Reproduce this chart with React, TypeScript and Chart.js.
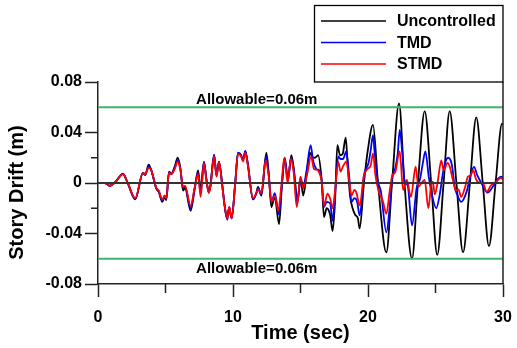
import React, { useEffect, useRef } from "react";
import { Chart, registerables } from "chart.js";

Chart.register(...registerables);

const seriesNames = ["Uncontrolled", "TMD", "STMD"];
const seriesColors = ["#000000", "#0000ff", "#ff0000"];

const timeUncontrolled = [
  0, 0.5, 0.87, 1.3, 1.85, 2.2, 2.76, 3.33, 3.5, 3.75,
  3.95, 4.32, 4.5, 4.76, 4.94, 5.06, 5.26, 5.43, 5.68, 5.9,
  6.1, 6.3, 6.45, 6.86, 7.16, 7.41, 7.6, 7.85, 8.02, 8.2,
  8.33, 8.6, 8.78, 8.96, 9.2, 9.38, 9.55, 9.7, 9.9, 10.17,
  10.37, 10.6, 10.74, 10.91, 11.1, 11.48, 11.73, 11.85, 12.1, 12.47,
  12.64, 12.84, 13.09, 13.41, 13.63, 13.83, 14.07, 14.32, 14.52, 14.77,
  15.01, 15.2, 15.43, 15.7, 15.85, 16.07, 16.3, 16.57, 16.74, 16.94,
  17.19, 17.38, 17.56, 17.73, 17.93, 18.12, 18.35, 18.5, 18.67, 18.86,
  19.04, 19.25, 19.38, 19.7, 19.96, 20.37, 20.74, 21.36, 21.78, 22.3,
  22.7, 23.26, 23.7, 24.2, 24.68, 25.13, 25.6, 26.05, 26.55, 27.04,
  27.55, 28.02, 28.5, 28.96, 29.45, 29.93, 30,
];
const driftUncontrolled = [
  0, 0, -0.002, 0.001, 0.0075, 0, -0.013, 0.008, 0.0065, 0.0146,
  0.01, -0.0045, -0.007, -0.015, -0.011, -0.0135, 0.009, 0.0075, 0.013, 0.02,
  0.012, -0.006, -0.004, -0.022, -0.005, 0.01, -0.004, 0.017, 0.004, -0.007,
  -0.002, 0.022, 0.006, 0.017, -0.001, -0.018, -0.028, -0.02, -0.028, 0.001,
  0.0236, 0.022, 0.018, 0.025, 0.015, -0.013, -0.008, -0.003, -0.01, 0.024,
  0.0085, -0.019, -0.011, -0.0326, -0.001, 0.02, 0.002, 0.022, 0.01, -0.014,
  0.003, -0.01, 0.005, 0.024, 0.021, 0.02, 0.022, 0.002, -0.027, -0.02,
  -0.025, -0.038, -0.014, 0.03, 0.022, 0.023, 0.036, 0.013, -0.01, -0.02,
  -0.025, -0.028, -0.036, 0.0, 0.024, 0.046, 0.0, -0.055, 0.0, 0.063,
  0.0, -0.06, 0.0, 0.057, 0.0, -0.057, 0.0, 0.057, 0.0, -0.055,
  0.0, 0.052, 0.0, -0.05, 0.0, 0.047, 0.046,
];

const timeTmd = [
  0, 0.5, 0.87, 1.3, 1.85, 2.2, 2.76, 3.33, 3.5, 3.75,
  3.95, 4.32, 4.5, 4.76, 4.94, 5.06, 5.26, 5.43, 5.68, 5.9,
  6.1, 6.3, 6.45, 6.86, 7.16, 7.41, 7.6, 7.85, 8.02, 8.2,
  8.33, 8.6, 8.78, 8.96, 9.2, 9.38, 9.58, 9.72, 9.9, 10.17,
  10.37, 10.6, 10.74, 10.91, 11.1, 11.48, 11.73, 11.85, 12.1, 12.45,
  12.64, 12.85, 13.1, 13.4, 13.63, 13.83, 14.07, 14.3, 14.5, 14.77,
  15.0, 15.2, 15.45, 15.75, 15.93, 16.2, 16.4, 16.57, 16.74, 16.94,
  17.19, 17.38, 17.56, 17.8, 17.97, 18.15, 18.39, 18.6, 18.77, 19.0,
  19.2, 19.38, 19.7, 20.04, 20.2, 20.37, 20.5, 20.7, 20.96, 21.36,
  21.6, 21.8, 22.0, 22.2, 22.35, 22.53, 22.7, 22.94, 23.26, 23.6,
  23.85, 24.05, 24.25, 24.5, 24.75, 25.06, 25.3, 25.6, 25.93, 26.2,
  26.44, 26.6, 26.9, 27.3, 27.6, 27.85, 28.1, 28.5, 28.84, 29.3,
  29.6, 29.85, 30,
];
const driftTmd = [
  0, 0, -0.0022, 0.001, 0.007, 0, -0.0125, 0.008, 0.0065, 0.013,
  0.01, -0.004, -0.0065, -0.014, -0.01, -0.0125, 0.0085, 0.007, 0.012, 0.018,
  0.011, -0.004, -0.003, -0.02, -0.004, 0.008, -0.008, 0.0165, 0.003, -0.0075,
  -0.002, 0.0225, 0.006, 0.017, -0.0015, -0.018, -0.029, -0.019, -0.028, 0.0005,
  0.024, 0.022, 0.018, 0.0255, 0.015, -0.013, -0.008, -0.004, -0.009, 0.021,
  0.007, -0.015, -0.008, -0.025, 0.0, 0.019, 0.003, 0.02, 0.01, -0.016,
  0.004, -0.003, 0.01, 0.03, 0.018, 0.011, 0.01, 0.002, -0.019, -0.015,
  -0.016, -0.03, -0.0085, 0.021, 0.019, 0.019, 0.025, 0.006, -0.015, -0.012,
  -0.015, -0.0257, 0.006, 0.016, 0.026, 0.038, 0.023, 0.003, -0.007, -0.039,
  -0.02, 0.005, 0.011, 0.023, 0.042, 0.025, 0.002, -0.002, -0.0336, -0.004,
  0.003, 0.015, 0.025, 0.005, -0.01, -0.02, -0.01, 0.011, 0.02, 0.015,
  -0.004, -0.009, -0.015, -0.007, 0.006, 0.0127, 0.006, -0.002, -0.0077, -0.002,
  0.003, 0.005, 0.004,
];

const timeStmd = [
  0, 0.5, 0.87, 1.3, 1.85, 2.2, 2.76, 3.33, 3.5, 3.75,
  3.95, 4.32, 4.5, 4.76, 4.94, 5.06, 5.26, 5.43, 5.68, 5.9,
  6.1, 6.3, 6.45, 6.86, 7.16, 7.41, 7.6, 7.85, 8.02, 8.2,
  8.33, 8.6, 8.78, 8.96, 9.2, 9.38, 9.58, 9.72, 9.9, 10.17,
  10.37, 10.6, 10.74, 10.91, 11.1, 11.48, 11.73, 11.85, 12.1, 12.42,
  12.64, 12.85, 13.1, 13.35, 13.6, 13.8, 14.05, 14.28, 14.5, 14.72,
  15.0, 15.2, 15.5, 15.78, 16.0, 16.2, 16.4, 16.57, 16.74, 17.0,
  17.2, 17.38, 17.56, 17.8, 17.97, 18.1, 18.39, 18.6, 18.77, 19.0,
  19.15, 19.38, 19.7, 19.96, 20.2, 20.37, 20.55, 20.8, 21.1, 21.36,
  21.6, 21.8, 22.0, 22.35, 22.6, 22.87, 23.18, 23.53, 23.73, 23.97,
  24.2, 24.47, 24.7, 24.8, 24.95, 25.15, 25.43, 25.6, 25.9, 26.05,
  26.3, 26.5, 26.7, 26.9, 27.2, 27.4, 27.6, 27.8, 28.0, 28.3,
  28.5, 28.8, 29.1, 29.5, 29.85, 30,
];
const driftStmd = [
  0, 0, -0.0025, 0.001, 0.007, 0, -0.012, 0.008, 0.007, 0.012,
  0.01, -0.004, -0.006, -0.013, -0.01, -0.012, 0.008, 0.007, 0.011, 0.017,
  0.011, -0.003, -0.002, -0.018, -0.004, 0.007, -0.011, 0.016, 0.003, -0.008,
  -0.003, 0.021, 0.005, 0.017, -0.002, -0.018, -0.028, -0.019, -0.028, 0.0,
  0.023, 0.021, 0.017, 0.024, 0.014, -0.012, -0.008, -0.005, -0.008, 0.018,
  0.006, -0.015, -0.01, -0.022, 0.0, 0.02, 0.0, 0.019, 0.008, -0.019,
  0.005, -0.0045, 0.0074, 0.021, 0.011, 0.0106, 0.008, 0.001, -0.018, -0.0085,
  -0.0125, -0.02, -0.006, 0.0167, 0.009, 0.012, 0.017, 0.003, -0.01, -0.0055,
  -0.008, -0.0177, 0.006, 0.011, 0.014, 0.0234, 0.006, -0.007, -0.0143, -0.0244,
  -0.007, 0.006, 0.008, 0.025, -0.0055, 0.0024, -0.011, 0.013, -0.003, 0.0,
  0.0024, -0.02, 0.0, 0.001, -0.009, 0.0, 0.018, 0.01, 0.016, 0.013,
  0.002, -0.006, -0.005, -0.011, -0.003, 0.005, 0.006, 0.01, 0.003, 0.0,
  0.0, -0.007, -0.002, 0.001, 0.004, 0.003,
];

const xMin = 0;
const xMax = 30;
const xStep = 5;
const xLabelEvery = 10;
const yMin = -0.08;
const yMax = 0.08;
const yStep = 0.02;
const yLabelEvery = 0.04;
const allowable = 0.06;
const allowableText = "Allowable=0.06m";
const xTitle = "Time (sec)";
const yTitle = "Story Drift (m)";

const FONT = "Arial, 'Liberation Sans', Helvetica, sans-serif";
const AXIS_COLOR = "#222222";
const ALLOW_COLOR = "#3cb56e";

const toPoints = (t: number[], v: number[]) => t.map((tt, i) => ({ x: tt, y: v[i] }));

const zeroPad = (s: any) => {
  s.paddingLeft = 0;
  s.paddingRight = 0;
  s.paddingTop = 0;
  s.paddingBottom = 0;
};

const overlayPlugin = {
  id: "overlay",
  afterDatasetsDraw(chart: any) {
    const { ctx, chartArea: a, scales } = chart;
    const xs = scales.x;
    const ys = scales.y;
    ctx.save();

    // zero line
    const y0 = ys.getPixelForValue(0);
    ctx.strokeStyle = "#333333";
    ctx.lineWidth = 2;
    ctx.beginPath();
    ctx.moveTo(a.left, y0);
    ctx.lineTo(a.right, y0);
    ctx.stroke();

    // allowable lines
    ctx.strokeStyle = ALLOW_COLOR;
    ctx.lineWidth = 2;
    const yUp = ys.getPixelForValue(allowable);
    const yDn = ys.getPixelForValue(-allowable);
    ctx.beginPath();
    ctx.moveTo(a.left, yUp);
    ctx.lineTo(a.right, yUp);
    ctx.moveTo(a.left, yDn);
    ctx.lineTo(a.right, yDn);
    ctx.stroke();

    // allowable labels
    ctx.fillStyle = "#000";
    ctx.font = `bold 15px ${FONT}`;
    ctx.textAlign = "center";
    ctx.textBaseline = "alphabetic";
    const lx = a.left + (a.right - a.left) * 0.392;
    ctx.fillText(allowableText, lx, yUp - 3);
    ctx.fillText(allowableText, lx, yDn + 14);

    // right border
    ctx.strokeStyle = AXIS_COLOR;
    ctx.lineWidth = 1.5;
    ctx.beginPath();
    ctx.moveTo(a.right, a.top);
    ctx.lineTo(a.right, a.bottom);
    ctx.stroke();

    // minor ticks
    ctx.beginPath();
    for (let v = xMin + xStep; v < xMax; v += 2 * xStep) {
      const px = xs.getPixelForValue(v);
      ctx.moveTo(px, a.bottom);
      ctx.lineTo(px, a.bottom + 9);
    }
    for (const v of [yStep, -yStep]) {
      const py = ys.getPixelForValue(v);
      ctx.moveTo(a.left - 7, py);
      ctx.lineTo(a.left, py);
    }
    ctx.stroke();

    // legend box
    ctx.lineWidth = 1.3;
    ctx.strokeStyle = "#000";
    ctx.strokeRect(314.5, 5.5, a.right - 314.5, a.top - 5.5);
    ctx.font = `bold 16px ${FONT}`;
    ctx.textAlign = "left";
    ctx.textBaseline = "middle";
    seriesNames.forEach((name, i) => {
      const ly = 21 + i * 21.5;
      ctx.strokeStyle = seriesColors[i];
      ctx.lineWidth = 1.3;
      ctx.beginPath();
      ctx.moveTo(321, ly);
      ctx.lineTo(386, ly);
      ctx.stroke();
      ctx.fillStyle = "#000";
      ctx.fillText(name, 397, ly + 1);
    });

    // y title
    ctx.save();
    ctx.translate(17, 192.5);
    ctx.rotate(-Math.PI / 2);
    ctx.font = `bold 20px ${FONT}`;
    ctx.textAlign = "center";
    ctx.textBaseline = "middle";
    ctx.fillStyle = "#000";
    ctx.fillText(yTitle, 0, 0);
    ctx.restore();

    ctx.restore();
  },
};

export default function App() {
  const canvasRef = useRef<HTMLCanvasElement | null>(null);

  useEffect(() => {
    document.body.style.margin = "0";
    const canvas = canvasRef.current;
    if (!canvas) return;
    const seriesTimes = [timeUncontrolled, timeTmd, timeStmd];
    const seriesDrifts = [driftUncontrolled, driftTmd, driftStmd];
    const chart = new Chart(canvas, {
      type: "line",
      data: {
        datasets: seriesNames.map((name, i) => ({
          label: name,
          data: toPoints(seriesTimes[i], seriesDrifts[i]),
          borderColor: seriesColors[i],
          borderWidth: 1.8,
          pointRadius: 0,
          fill: false,
          cubicInterpolationMode: "monotone" as const,
          order: 3 - i,
        })),
      },
      options: {
        responsive: false,
        animation: false,
        events: [],
        layout: { padding: { left: 0, top: 82, right: 14, bottom: 0 } },
        plugins: {
          legend: { display: false },
          tooltip: { enabled: false },
          title: { display: false },
        },
        scales: {
          x: {
            type: "linear",
            min: xMin,
            max: xMax,
            afterFit: (s: any) => {
              s.height = 64;
              zeroPad(s);
            },
            ticks: {
              stepSize: xStep,
              autoSkip: false,
              maxRotation: 0,
              padding: 11,
              color: "#000",
              font: { family: FONT, size: 16, weight: "bold" },
              callback: (v: any) => (Math.round(v) % xLabelEvery === 0 ? String(Math.round(v)) : ""),
            },
            grid: {
              drawOnChartArea: false,
              drawTicks: true,
              tickLength: 13,
              tickWidth: 1.5,
              tickColor: (c: any) =>
                Math.round(c.tick.value) % xLabelEvery === 0 ? AXIS_COLOR : "rgba(0,0,0,0)",
            },
            border: { display: true, color: AXIS_COLOR, width: 1.5 },
            title: {
              display: true,
              text: xTitle,
              color: "#000",
              font: { family: FONT, size: 20, weight: "bold" },
              padding: { top: 0, bottom: 3 },
            },
          },
          y: {
            type: "linear",
            min: yMin,
            max: yMax,
            afterFit: (s: any) => {
              s.width = 98;
              zeroPad(s);
            },
            ticks: {
              stepSize: yStep,
              autoSkip: false,
              padding: 3,
              color: "#000",
              font: { family: FONT, size: 16, weight: "bold" },
              callback: (v: any) => {
                const k = Math.round(v / yStep);
                if (k % Math.round(yLabelEvery / yStep) !== 0) return "";
                const val = k * yStep;
                return Math.abs(val) < 1e-9 ? "0" : val.toFixed(2);
              },
            },
            grid: {
              drawOnChartArea: false,
              drawTicks: true,
              tickLength: 13,
              tickWidth: 1.5,
              tickColor: (c: any) =>
                Math.round(c.tick.value / yStep) % Math.round(yLabelEvery / yStep) === 0
                  ? AXIS_COLOR
                  : "rgba(0,0,0,0)",
            },
            border: { display: true, color: AXIS_COLOR, width: 1.5 },
          },
        },
      },
      plugins: [overlayPlugin],
    });
    return () => chart.destroy();
  }, []);

  return (
    <div style={{ position: "absolute", left: 0, top: 0, width: 517, height: 348, background: "#fff" }}>
      <canvas ref={canvasRef} width={517} height={348} style={{ width: 517, height: 348, display: "block" }} />
    </div>
  );
}
